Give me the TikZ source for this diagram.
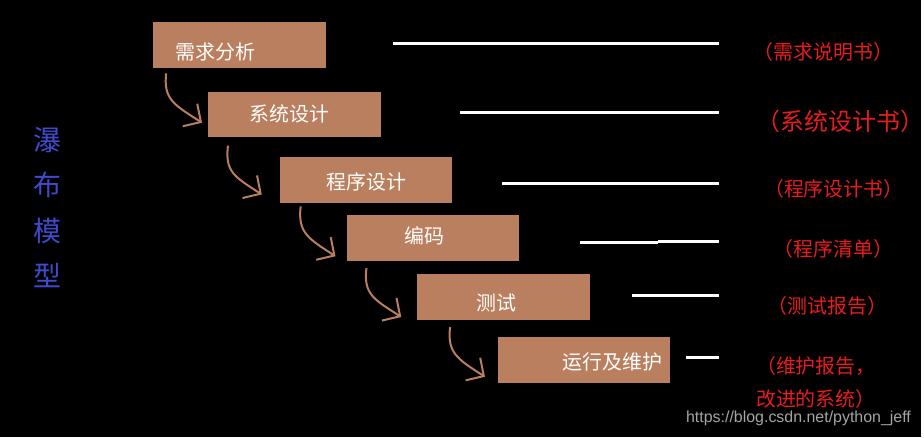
\documentclass[tikz,border=0pt]{standalone}
\usepackage{fontspec}
\usepackage{tikz}
\usetikzlibrary{arrows.meta,calc}
\newfontfamily\cjk{Noto Sans CJK SC}
\newfontfamily\wmfont{Liberation Sans}
\definecolor{brn}{RGB}{186,127,94}
\definecolor{docred}{RGB}{232,28,30}
\definecolor{tblue}{RGB}{64,74,204}
\definecolor{wmgray}{RGB}{165,165,165}

\begin{document}
\begin{tikzpicture}[x=1pt,y=-1pt,
  box/.style={fill=brn,minimum width=173pt,minimum height=46pt,inner sep=0pt},
  boxtext/.style={text=white,font=\cjk\fontsize{20}{24}\selectfont,inner sep=0pt},
  wline/.style={draw=white,line width=3pt},
  doc/.style={text=docred,font=\cjk\fontsize{20}{24}\selectfont,inner sep=0pt},
  flow/.style={draw=brn,line width=2pt,-{Straight Barb[length=13pt,width=27pt]}}
]

%==================== 背景 ====================
\fill[black] (0,0) rectangle (924,439);

% 左侧竖排标题
\node[text=tblue,font=\cjk\fontsize{28}{45.7}\selectfont,align=center,inner sep=0pt]
  (title) at (48,208.5) {瀑\\布\\模\\型};

%==================== 各阶段方框 ====================
\foreach \i/\x/\y/\dx/\dy/\t in {
1/240.5/45.5/-24/7/需求分析,
2/295.5/115/-5/-1/系统设计,
3/367.5/181/0/2/程序设计,
4/434.5/239/-8/-2/编码,
5/505.5/298/-7/6/测试,
6/586.5/361/28/2/运行及维护
}{
    \node[box] (b\i) at (\x,\y) {};
    \node[boxtext] (t\i) at ($(b\i.center)+(\dx,\dy)$) {\t};
}

% 阶段之间的弯箭头
\foreach \i/\j/\sx/\sy/\ex/\ey in {
1/2/13/5/-6/-15,
2/3/20/8/-18/-9,
3/4/21/3/-11/-5,
4/5/20/7/-16/-3,
5/6/33/7/-13/-6
}{
    \draw[flow] ($(b\i.south west)+(\sx,\sy)$)
        .. controls +(-3,26) and +(-28,-18) .. ($(b\j.south west)+(\ex,\ey)$);
}

%==================== 右侧白线 ====================
\foreach \xa/\xb/\y in {
394/722/44,462/722/113,504/722/184,582/660/243,660/722/242,634/722/297,689/722/359
}{
    \draw[wline] (\xa,\y) -- (\xb,\y);
}

%==================== 文档名称 ====================
\node[doc] (d1) at (826.5,52) {（需求说明书）};
\node[doc,font=\cjk\fontsize{24}{29}\selectfont] (d2) at (843.5,122) {（系统设计书）};
\node[doc] (d3) at (837,190) {（程序设计书）};
\node[doc] (d4) at (836.5,250) {（程序清单）};
\node[doc] (d5) at (830.5,307) {（测试报告）};
\node[doc,font=\cjk\fontsize{20}{33}\selectfont,align=center] (d6) at (819,383.5)
  {（维护报告，\\改进的系统）};

% 水印
\node[text=wmgray,font=\wmfont\fontsize{16}{19}\selectfont,inner sep=0pt]
  (wm) at (801.5,420) {https://blog.csdn.net/python\_jeff};

\end{tikzpicture}
\end{document}
